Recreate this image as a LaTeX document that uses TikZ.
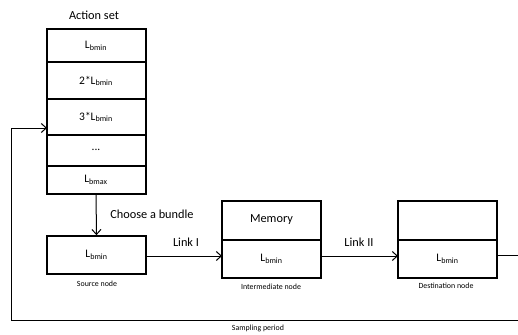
\documentclass[tikz,border=0pt]{standalone}
\usepackage{fontspec}
\setmainfont{Carlito}
\usetikzlibrary{arrows.meta}
\begin{document}
\begin{tikzpicture}[x=1pt,y=-1pt,
  box/.style={draw,line width=1.6pt},
  conn/.style={line width=1pt,-{Straight Barb[length=5pt,width=9pt,line width=1pt]}},
  plain/.style={line width=1pt},
  lbl/.style={font=\fontsize{12.3}{14}\selectfont,inner sep=0pt},
  cell/.style={font=\fontsize{11.5}{13}\selectfont,inner sep=0pt},
  small/.style={font=\fontsize{7.9}{9}\selectfont,inner sep=0pt}]
\useasboundingbox (0,0) rectangle (518,334);
% action set stack
\draw[box] (47,29) rectangle (146,194);
\foreach \yy in {62,99,135,166} \draw[box] (47,\yy) -- (146,\yy);
\node[lbl] (title) at (94,15) {Action set};
\node[cell] (a1) at (96,46) {L\textsubscript{bmin}};
\node[cell] (a2) at (96,81) {2*L\textsubscript{bmin}};
\node[cell] (a3) at (96,117) {3*L\textsubscript{bmin}};
\node[cell] (a4) at (96,150) {...};
\node[cell] (a5) at (96,180) {L\textsubscript{bmax}};
\coordinate (stackbot) at (96,194);
\coordinate (stackleft) at (47,128);
% source node
\node[box,minimum width=99pt,minimum height=38pt,inner sep=0pt,font=\fontsize{11.5}{13}\selectfont] (src) at (96.5,255) {L\textsubscript{bmin}};
\node[small] (srcl) at (97,284) {Source node};
\draw[conn] (stackbot) -- (src.north);
\node[lbl] (choose) at (152,214) {Choose a bundle};
% intermediate node
\draw[box] (222,201) rectangle (321,278);
\draw[box] (222,240) -- (321,240);
\node[lbl] (mem) at (271.5,220) {Memory};
\node[cell] (ilb) at (271.5,259) {L\textsubscript{bmin}};
\coordinate (intl) at (222,256);
\coordinate (intr) at (321,256);
\node[small] (intlab) at (271,287) {Intermediate node};
\draw[conn] (src.east |- intl) -- (intl);
\node[lbl] (l1) at (186,242) {Link I};
% destination node
\draw[box] (398,201) rectangle (497,278);
\draw[box] (398,240) -- (497,240);
\node[cell] (dlb) at (447.5,259) {L\textsubscript{bmin}};
\coordinate (dstl) at (398,256);
\coordinate (dstr) at (497,255);
\node[small] (dstlab) at (446,286) {Destination node};
\draw[conn] (intr) -- (dstl);
\node[lbl] (l2) at (359,242) {Link II};
% feedback loop
\coordinate (e1) at (518,255);
\coordinate (e2) at (518,320);
\coordinate (c1) at (11,320);
\coordinate (c2) at (11,128);
\draw[plain] (dstr) -- (e1);
\draw[plain] (e2) -- (c1) -- (c2);
\draw[conn] (c2) -- (stackleft);
\node[small] (samp) at (258,328) {Sampling period};
\end{tikzpicture}
\end{document}
